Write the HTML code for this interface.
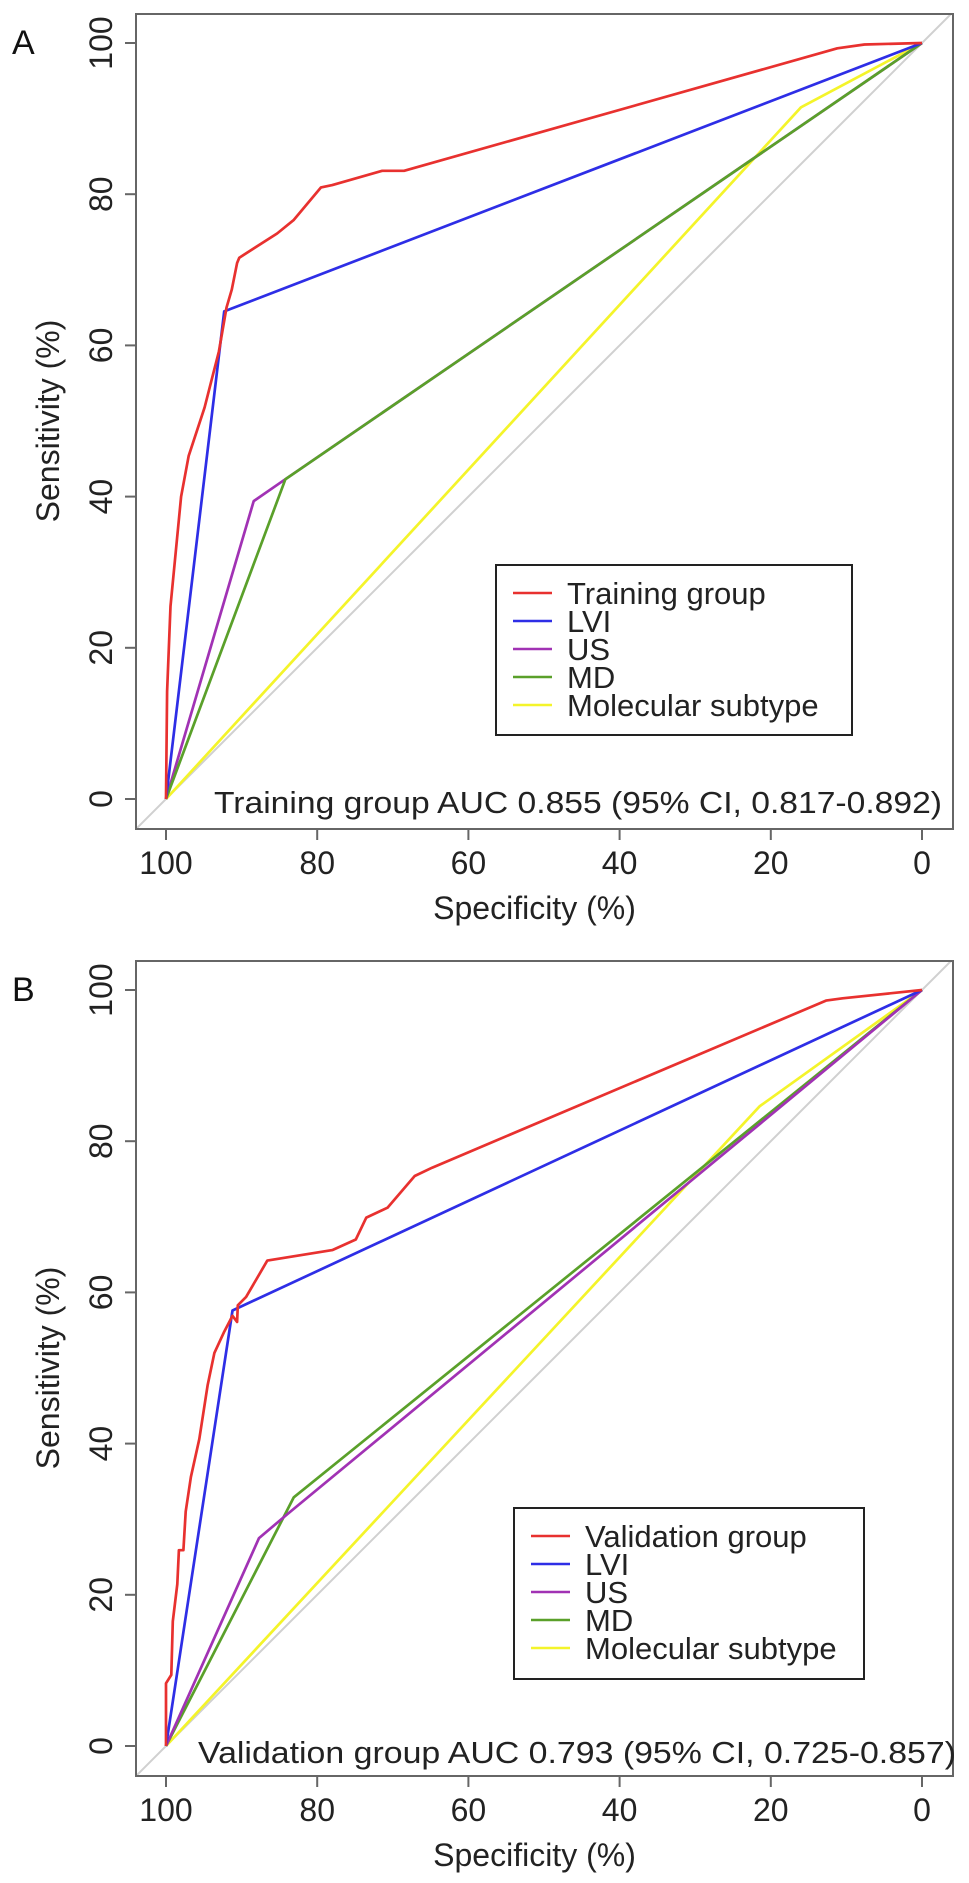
<!DOCTYPE html>
<html><head><meta charset="utf-8">
<style>
html,body{margin:0;padding:0;background:#fff;}
svg{display:block;font-family:"Liberation Sans",Arial,sans-serif;}
</style></head>
<body>
<svg id="chart" width="969" height="1883" viewBox="0 0 969 1883" xmlns="http://www.w3.org/2000/svg"></svg>
<script>
const xTicks = [100, 80, 60, 40, 20, 0];
const yTicks = [0, 20, 40, 60, 80, 100];
const seriesNames = ["LVI", "US", "MD", "Molecular subtype"];
const seriesColors = ["#e8312f", "#2e2ee6", "#a132b4", "#5aa02a", "#f4f42a"];

// Panel A (training) — specificity / sensitivity pairs
const trainRedSpec = [100, 99.85, 99.4, 98.5, 98, 97, 94.9, 93, 92, 91.3, 90.6, 90.3, 85.3, 83.1, 79.5, 78, 71.4, 68.5, 11.2, 7.6, 0];
const trainRedSens = [0, 14.2, 25.5, 34.8, 40, 45.4, 51.8, 59.2, 65, 67.4, 70.9, 71.6, 74.8, 76.6, 80.9, 81.2, 83.1, 83.1, 99.3, 99.8, 100];
const trainLviSpec = [100, 92.3, 0];
const trainLviSens = [0, 64.5, 100];
const trainUsSpec = [100, 88.4, 84.2, 0];
const trainUsSens = [0, 39.4, 42.3, 100];
const trainMdSpec = [100, 84.2, 0];
const trainMdSens = [0, 42.3, 100];
const trainMolSpec = [100, 16, 0];
const trainMolSens = [0, 91.5, 100];

// Panel B (validation)
const valRedSpec = [100, 100, 99.3, 99.1, 98.5, 98.3, 97.7, 97.4, 96.7, 95.6, 94.5, 93.6, 92.3, 91.2, 90.6, 90.5, 89.4, 86.6, 78, 74.9, 73.5, 70.7, 67.1, 64.8, 12.7, 10.5, 0];
const valRedSens = [0, 8.3, 9.4, 16.5, 21.4, 25.9, 25.9, 31, 35.6, 40.6, 47.7, 52, 54.8, 56.9, 56.1, 58.3, 59.4, 64.2, 65.6, 67, 69.9, 71.2, 75.4, 76.5, 98.6, 98.9, 100];
const valLviSpec = [100, 91.2, 0];
const valLviSens = [0, 57.6, 100];
const valUsSpec = [100, 87.7, 83.9, 0];
const valUsSens = [0, 27.5, 30.7, 100];
const valMdSpec = [100, 83.1, 0];
const valMdSens = [0, 32.9, 100];
const valMolSpec = [100, 21.5, 0];
const valMolSens = [0, 84.6, 100];

const NS = "http://www.w3.org/2000/svg";
const svg = document.getElementById("chart");
function mk(tag, attrs, parent) {
  const e = document.createElementNS(NS, tag);
  for (const k in attrs) e.setAttribute(k, attrs[k]);
  (parent || svg).appendChild(e);
  return e;
}

function drawPanel(off, letter, groupName, auc, specs, senses, legendBox, aucBox, key, order) {
  const x = v => 922 - (v / 100) * (922 - 166);
  const y = v => off + 799 - (v / 100) * (799 - 43);
  const g = mk("g", {});
  
  
  const L = mk("text", {x: 12, y: off + 54, "font-size": 34, fill: "#111"}, g);
  L.textContent = letter;
  
  
  const top = off + 14, bot = off + 829, left = 136, right = 953;
  const cp = mk("clipPath", {id: "clip" + key}, g);
  mk("rect", {x: left, y: top, width: right - left, height: bot - top}, cp);
  const d = mk("line", {x1: x(120), y1: y(-20), x2: x(-20), y2: y(120), stroke: "#d0d0d0", "stroke-width": 2, "clip-path": "url(#clip" + key + ")"}, g);
  
  
  order.forEach(i => {
    const pts = specs[i].map((s, j) => x(s).toFixed(1) + "," + y(senses[i][j]).toFixed(1)).join(" ");
    const pl = mk("polyline", {points: pts, fill: "none", stroke: seriesColors[i], "stroke-width": 2.7, "stroke-linejoin": "round"}, g);
    
    
  });
  const bx = mk("rect", {x: left, y: top, width: right - left, height: bot - top, fill: "none", stroke: "#666", "stroke-width": 2}, g);
  
  
  xTicks.forEach(t => {
    mk("line", {x1: x(t), y1: bot, x2: x(t), y2: bot + 11, stroke: "#666", "stroke-width": 2}, g);
    const tx = mk("text", {x: x(t), y: off + 874, "font-size": 32, "text-anchor": "middle", fill: "#222"}, g);
    tx.textContent = t;
    
    
  });
  const xt = mk("text", {x: (left + right) / 2 - 10, y: off + 919, "font-size": 32, "text-anchor": "middle", fill: "#222"}, g);
  xt.textContent = "Specificity (%)";
  
  
  yTicks.forEach(t => {
    mk("line", {x1: left - 11, y1: y(t), x2: left, y2: y(t), stroke: "#666", "stroke-width": 2}, g);
    const ty = mk("text", {x: 0, y: 0, "font-size": 32, "text-anchor": "middle", fill: "#222", transform: "translate(112," + y(t) + ") rotate(-90)"}, g);
    ty.textContent = t;
    
    
  });
  const yt = mk("text", {x: 0, y: 0, "font-size": 32, "text-anchor": "middle", fill: "#222", transform: "translate(59," + (off + 421) + ") rotate(-90)"}, g);
  yt.textContent = "Sensitivity (%)";
  
  
  const lg = mk("g", {}, g);
  
  
  mk("rect", {x: legendBox[0], y: legendBox[1], width: legendBox[2], height: legendBox[3], fill: "#fff", stroke: "#222", "stroke-width": 2}, lg);
  const labels = [groupName].concat(seriesNames);
  labels.forEach((lab, i) => {
    const cy = legendBox[1] + 28 + i * 28;
    mk("line", {x1: legendBox[0] + 17, y1: cy, x2: legendBox[0] + 56, y2: cy, stroke: seriesColors[i], "stroke-width": 2.6}, lg);
    const t = mk("text", {x: legendBox[0] + 71, y: cy + 11, "font-size": 31, fill: "#222"}, lg);
    t.textContent = lab;
    
    
  });
  const at = mk("text", {x: aucBox[0], y: aucBox[1], "font-size": 31, fill: "#222", textLength: aucBox[2], lengthAdjust: "spacingAndGlyphs"}, g);
  at.textContent = auc;
  
  
}

drawPanel(0, "A", "Training group", "Training group AUC 0.855 (95% CI, 0.817-0.892)",
  [trainRedSpec, trainLviSpec, trainUsSpec, trainMdSpec, trainMolSpec],
  [trainRedSens, trainLviSens, trainUsSens, trainMdSens, trainMolSens],
  [496, 565, 356, 170], [214, 813, 728], "a", [4, 2, 3, 1, 0]);
drawPanel(947, "B", "Validation group", "Validation group AUC 0.793 (95% CI, 0.725-0.857)",
  [valRedSpec, valLviSpec, valUsSpec, valMdSpec, valMolSpec],
  [valRedSens, valLviSens, valUsSens, valMdSens, valMolSens],
  [514, 1508, 350, 171], [198, 1763, 758], "b", [4, 3, 2, 1, 0]);
</script>
</body></html>
